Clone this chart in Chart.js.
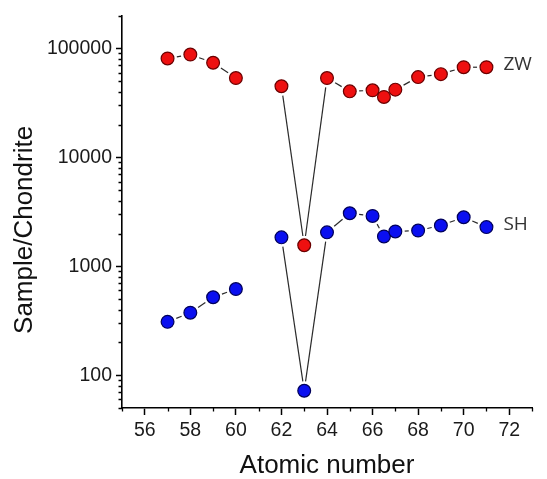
<!DOCTYPE html>
<html>
<head>
<meta charset="utf-8">
<script src="https://cdn.jsdelivr.net/npm/chart.js@4.4.1/dist/chart.umd.min.js"></script>
<style>
  html, body { margin: 0; padding: 0; background: #fff; }
  #wrap { width: 547px; height: 479px; }
</style>
</head>
<body>
<div id="wrap"><canvas id="reeChart" width="547" height="479"></canvas></div>
<script>
// ── Data ──
const atomicNo = [57, 58, 59, 60, 62, 63, 64, 65, 66, 66.5, 67, 68, 69, 70, 71];
const zwValues = [81000, 88000, 74000, 53500, 45000, 1560, 53500, 40400, 41300, 35900, 41900, 54600, 58100, 67300, 67300];
const shValues = [309, 375, 520, 618, 1845, 72, 2050, 3070, 2900, 1880, 2090, 2130, 2370, 2820, 2290];
const seriesNames = ['ZW', 'SH'];

const FONT = 'Liberation Sans, Arial, sans-serif';

const isDecade = v => Math.abs(Math.log10(v) - Math.round(Math.log10(v))) < 1e-9;
const isEven   = v => Math.abs(v % 2) < 1e-9;

// Connecting lines with a small gap at each marker, broken where an element is missing
const gapLines = {
  id: 'gapLines',
  beforeDatasetsDraw(chart) {
    const ctx = chart.ctx;
    ctx.save();
    ctx.strokeStyle = '#2a2a2a';
    ctx.lineWidth = 1.2;
    chart.data.datasets.forEach((ds, di) => {
      const pts = chart.getDatasetMeta(di).data;
      for (let i = 0; i < pts.length - 1; i++) {
        if (ds.data[i + 1].x - ds.data[i].x > 1.5) continue;
        const a = pts[i], b = pts[i + 1];
        const dx = b.x - a.x, dy = b.y - a.y;
        const len = Math.hypot(dx, dy);
        const cut = 9.4;
        if (len <= 2 * cut) continue;
        const ux = dx / len, uy = dy / len;
        ctx.beginPath();
        ctx.moveTo(a.x + ux * cut, a.y + uy * cut);
        ctx.lineTo(b.x - ux * cut, b.y - uy * cut);
        ctx.stroke();
      }
    });
    ctx.restore();
  },
  // series names next to the last point
  afterDatasetsDraw(chart) {
    const ctx = chart.ctx;
    ctx.save();
    ctx.font = '19px "Open Sans", sans-serif';
    ctx.fillStyle = '#333';
    ctx.textBaseline = 'middle';
    chart.data.datasets.forEach((ds, di) => {
      const pts = chart.getDatasetMeta(di).data;
      const last = pts[pts.length - 1];
      ctx.fillText(ds.label, last.x + 17, last.y - 3);
    });
    ctx.restore();
  }
};

// Short minor tick marks on both axes
const minorTicks = {
  id: 'minorTicks',
  afterDraw(chart) {
    const ctx = chart.ctx;
    const xs = chart.scales.x, ys = chart.scales.y;
    ctx.save();
    ctx.strokeStyle = '#000';
    ctx.lineWidth = 1.3;
    ctx.beginPath();
    xs.ticks.forEach(t => {
      if (isEven(t.value)) return;
      const px = Math.round(xs.getPixelForValue(t.value)) + 0.5;
      ctx.moveTo(px, xs.top);
      ctx.lineTo(px, xs.top + 3.5);
    });
    ys.ticks.forEach(t => {
      if (isDecade(t.value)) return;
      const py = Math.round(ys.getPixelForValue(t.value)) + 0.5;
      ctx.moveTo(ys.right, py);
      ctx.lineTo(ys.right - 3.5, py);
    });
    ctx.stroke();
    ctx.restore();
  }
};

new Chart(document.getElementById('reeChart'), {
  type: 'scatter',
  data: {
    datasets: [
      {
        label: seriesNames[0],
        data: atomicNo.map((x, i) => ({ x, y: zwValues[i] })),
        backgroundColor: '#ee1010',
        borderColor: '#6a0000',
        borderWidth: 1.2,
        pointRadius: 6.4,
        showLine: false,
        clip: false
      },
      {
        label: seriesNames[1],
        data: atomicNo.map((x, i) => ({ x, y: shValues[i] })),
        backgroundColor: '#0a0ff0',
        borderColor: '#00005a',
        borderWidth: 1.2,
        pointRadius: 6.4,
        showLine: false,
        clip: false
      }
    ]
  },
  options: {
    responsive: false,
    animation: false,
    layout: { padding: { top: 12, right: 15, left: 0, bottom: 0 } },
    plugins: { legend: { display: false }, tooltip: { enabled: false } },
    scales: {
      x: {
        type: 'linear',
        min: 55,
        max: 73,
        afterFit(s) { s.height = 71; },
        ticks: {
          stepSize: 1,
          autoSkip: false,
          maxRotation: 0,
          padding: 4,
          color: '#1a1a1a',
          font: { family: FONT, size: 19.5 },
          callback: v => isEven(v) ? String(v) : ''
        },
        grid: {
          drawOnChartArea: false,
          tickLength: 7,
          tickWidth: 1.5,
          tickColor: c => (c.tick && isEven(c.tick.value)) ? '#000' : 'rgba(0,0,0,0)'
        },
        border: { color: '#000', width: 1.6 },
        title: {
          display: true,
          text: 'Atomic number',
          color: '#111',
          font: { family: FONT, size: 26, lineHeight: 1 },
          padding: { top: 0, bottom: 0 }
        }
      },
      y: {
        type: 'logarithmic',
        min: 50,
        max: 200000,
        afterFit(s) { s.width = 122; },
        afterBuildTicks(s) {
          s.ticks = s.ticks.filter(t => {
            const m = t.value / Math.pow(10, Math.floor(Math.log10(t.value) + 1e-9));
            return Math.abs(m - Math.round(m)) < 1e-6;
          });
        },
        ticks: {
          autoSkip: false,
          padding: 4,
          color: '#1a1a1a',
          font: { family: FONT, size: 19.5 },
          callback: v => isDecade(v) ? String(v) : ''
        },
        grid: {
          drawOnChartArea: false,
          tickLength: 6,
          tickWidth: 1.5,
          tickColor: c => (c.tick && isDecade(c.tick.value)) ? '#000' : 'rgba(0,0,0,0)'
        },
        border: { color: '#000', width: 1.6 },
        title: {
          display: true,
          // trailing spaces nudge the centred title down to where the reference has it
          text: 'Sample/Chondrite     ',
          color: '#111',
          font: { family: FONT, size: 26, lineHeight: 1 },
          padding: { top: 12, bottom: 0 }
        }
      }
    }
  },
  plugins: [gapLines, minorTicks]
});
</script>
</body>
</html>
